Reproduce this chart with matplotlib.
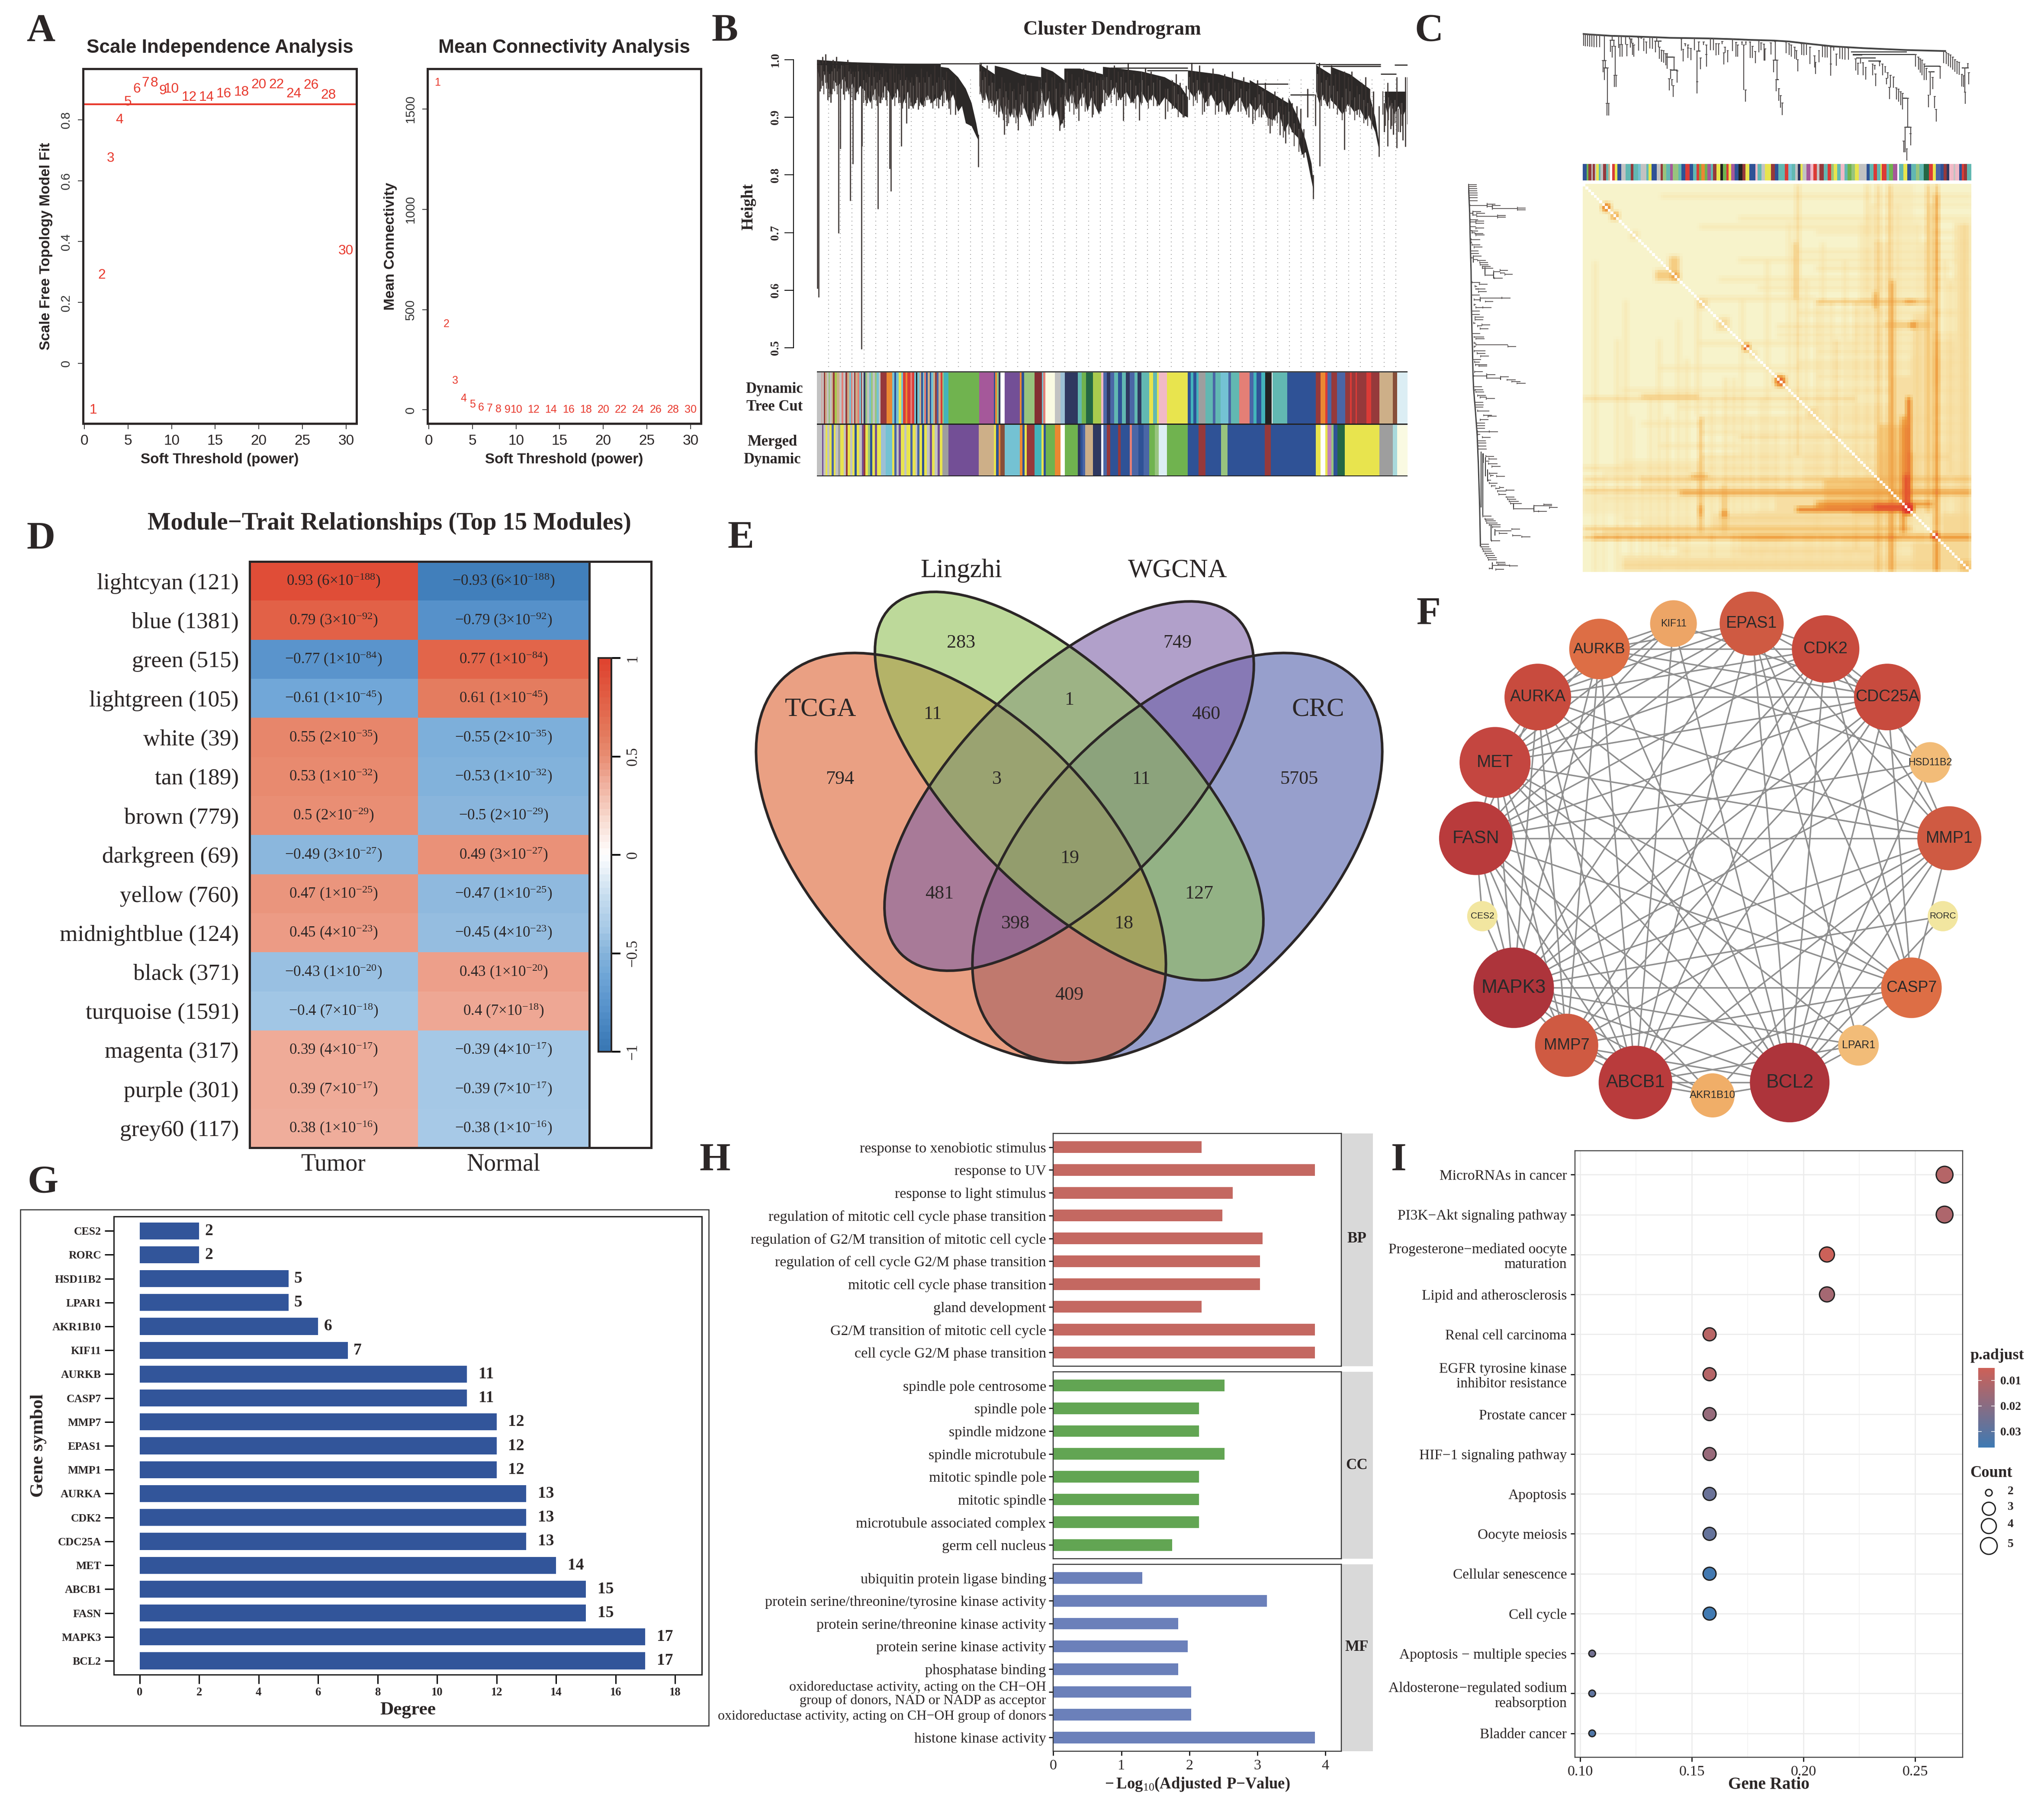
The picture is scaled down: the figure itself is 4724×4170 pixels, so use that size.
import numpy as np
import matplotlib
matplotlib.use('Agg')
import matplotlib.pyplot as plt
from matplotlib.colors import LinearSegmentedColormap
from matplotlib.patches import Ellipse, Circle, Rectangle

plt.rcParams['font.family'] = ['Liberation Serif', 'DejaVu Sans']
plt.rcParams['mathtext.fontset'] = 'custom'
plt.rcParams['mathtext.rm'] = 'Liberation Serif'
plt.rcParams['mathtext.bf'] = 'Liberation Serif:bold'
plt.rcParams['mathtext.default'] = 'rm'

W, H = 4724, 4170
DPI = 300
DARK = '#2B2626'
SANS = ['Liberation Sans', 'DejaVu Sans']

# panel A
powers = [1, 2, 3, 4, 5, 6, 7, 8, 9, 10, 12, 14, 16, 18, 20, 22, 24, 26, 28, 30]
sft_fit = [-0.153, 0.29, 0.673, 0.80, 0.858, 0.90, 0.92, 0.92, 0.894, 0.90, 0.874,
           0.873, 0.885, 0.89, 0.915, 0.915, 0.885, 0.913, 0.88, 0.37]
mean_conn = [1631, 427, 146, 57, 27, 12, 8, 4, 2, 2, 1, 1, 1, 1, 1, 1, 1, 1, 1, 1]

# panel B, dense parts of the dendrogram: top outline (x, h) and toothed bottom outline (x, h)
dense_blocks = [
    ([20, 110, 210, 340], [1.0, .996, .994, .992],
     [20, 30, 40, 50, 56, 62, 75, 90, 100, 112, 120, 132, 145, 158, 170, 185, 195, 205, 215, 228, 240, 255, 268, 280,
      292, 305, 318, 330, 340],
     [.985, .96, .975, .95, .935, .965, .955, .97, .945, .96, .94, .955, .945, .925, .95, .93, .955, .945, .93, .95,
      .92, .945, .915, .935, .92, .94, .925, .935, .93]),
    ([340, 360, 385, 405, 420, 432, 438], [.988, .986, .97, .95, .925, .89, .868],
     [340, 350, 360, 372, 385, 395, 405, 420, 432, 438], [.935, .95, .925, .94, .91, .92, .89, .885, .868, .86]),
    ([440, 480], [.993, .975], [440, 448, 456, 464, 472, 480], [.955, .93, .945, .925, .935, .92]),
    ([480, 510, 550, 600], [.99, .985, .975, .97],
     [480, 490, 500, 510, 520, 530, 540, 550, 560, 570, 580, 590, 600],
     [.92, .935, .905, .925, .90, .92, .895, .93, .91, .89, .92, .90, .93]),
    ([600, 630, 660], [.988, .98, .965], [600, 610, 620, 630, 640, 650, 660], [.95, .92, .935, .90, .915, .885, .90]),
    ([660, 700, 760], [.985, .985, .975], [660, 670, 680, 690, 700, 710, 720, 730, 740, 750, 760],
     [.94, .925, .945, .915, .93, .945, .91, .935, .92, .905, .93]),
    ([760, 800, 860], [.988, .985, .98], [760, 775, 790, 805, 820, 835, 850, 860],
     [.95, .935, .955, .93, .945, .925, .94, .92]),
    ([860, 920, 960, 980], [.98, .97, .955, .935], [860, 875, 890, 905, 920, 935, 950, 965, 980],
     [.945, .925, .94, .92, .935, .925, .915, .905, .90]),
    ([980, 1060, 1140], [.982, .975, .96], [980, 995, 1010, 1025, 1040, 1055, 1070, 1085, 1100, 1115, 1130, 1140],
     [.95, .935, .95, .925, .94, .92, .93, .905, .925, .935, .91, .925]),
    ([1140, 1190, 1240], [.965, .945, .925], [1140, 1155, 1170, 1185, 1200, 1215, 1230, 1240],
     [.925, .91, .925, .90, .895, .91, .875, .89]),
    ([1240, 1265, 1285, 1300, 1306], [.935, .90, .86, .82, .78], [1240, 1250, 1265, 1275, 1285, 1300, 1306],
     [.89, .875, .865, .835, .84, .79, .77]),
    ([1312, 1350], [.991, .975], [1312, 1320, 1330, 1340, 1350], [.945, .925, .94, .92, .935]),
    ([1350, 1400, 1450], [.988, .975, .95], [1350, 1365, 1380, 1395, 1410, 1425, 1440, 1450],
     [.93, .92, .905, .925, .91, .915, .895, .905]),
    ([1450, 1465, 1476], [.94, .90, .85], [1450, 1465, 1476], [.90, .875, .84]),
    ([1490, 1545], [.945, .945], [1490, 1497, 1505, 1515, 1525, 1535, 1545], [.925, .905, .925, .905, .92, .90, .915]),
]
dendro_tall_x = [21, 24, 76, 80, 106, 113, 135, 137, 178, 208, 212, 238, 252, 438, 1305, 1322,
                 1310, 1385, 1475, 1497, 1521, 1543, 1549, 813, 855, 922, 1138, 1148, 1193,
                 1218, 1233, 1280, 505, 541, 575, 648, 660, 698, 732, 755, 628, 970, 378, 282,
                 295, 335, 1022, 1080]
dendro_tall_top = [1.0, 1.0, .985, .985, .985, .98, .985, .98, .98, .985, .985, .985, .97, .87,
                   .80, .985, .94, .98, .92, .96, .97, .97, .97, .98, .96, .95, .95, .93, .93,
                   .92, .92, .88, .96, .96, .96, .96, .95, .97, .97, .97, .97, .93, .97, .97,
                   .97, .97, .96, .95]
dendro_tall_bot = [.603, .588, .699, .845, .755, .819, .498, .85, .741, .811, .772, .85, .89,
                   .814, .758, .815, .885, .844, .832, .85, .847, .849, .888, .894, .895, .897,
                   .90, .889, .872, .869, .855, .83, .87, .878, .885, .877, .882, .894, .90,
                   .911, .904, .90, .905, .914, .918, .916, .91, .905]
dendro_short_x = [28, 35, 42, 48, 56, 62, 70, 88, 95, 100, 120, 125, 145, 150, 158, 165, 172, 185,
                  192, 198, 218, 225, 232, 245, 258, 265, 275, 290, 305, 315, 325, 345, 355, 362,
                  445, 452, 460, 470, 478, 490, 498, 512, 520, 530, 550, 560, 585, 595, 605, 615,
                  635, 655, 668, 680, 690, 710, 720, 740, 748, 765, 775, 790, 800, 825, 840, 870,
                  885, 900, 940, 950, 960, 975, 990, 1000, 1010, 1030, 1045, 1060, 1075, 1095,
                  1110, 1125, 1160, 1170, 1180, 1205, 1225, 1250, 1262, 1272, 1290, 1320, 1332,
                  1342, 1352, 1362, 1372, 1395, 1405, 1418, 1430, 1440, 1450, 1460, 1488, 1505,
                  1512, 1530, 1537]
dendro_short_bot = [.945, .955, .96, .93, .926, .95, .955, .94, .945, .95, .93, .945, .93, .925,
                    .945, .94, .93, .925, .935, .93, .94, .935, .925, .94, .915, .92, .925, .935,
                    .93, .925, .94, .92, .93, .915, .945, .93, .94, .925, .91, .90, .92, .885,
                    .91, .90, .905, .925, .895, .915, .90, .93, .925, .89, .93, .925, .915, .935,
                    .925, .93, .915, .92, .935, .94, .93, .945, .925, .935, .93, .92, .915, .925,
                    .91, .905, .945, .93, .94, .92, .935, .91, .925, .93, .91, .92, .915, .90,
                    .91, .895, .885, .875, .87, .865, .90, .945, .93, .92, .94, .925, .93, .92,
                    .93, .905, .91, .92, .90, .895, .875, .88, .87, .875, .86]
dendro_fine_x = [31, 38, 45, 52, 59, 66, 73, 84, 92, 103, 109, 117, 128, 141, 148, 155, 162, 168, 176, 182,
                 189, 202, 222, 236, 242, 250, 262, 270, 279, 286, 300, 310, 320, 330, 349, 366, 442, 449, 456,
                 466, 474, 485, 494, 503, 509, 516, 526, 535, 546, 555, 565, 580, 590, 600, 612, 622, 640, 652,
                 664, 674, 685, 694, 705, 715, 726, 736, 744, 760, 770, 782, 795, 808, 820, 832, 845, 862, 878,
                 892, 908, 928, 945, 955, 968, 985, 995, 1005, 1018, 1035, 1052, 1068, 1088, 1102, 1118, 1132,
                 1155, 1165, 1175, 1188, 1198, 1212, 1228, 1242, 1256, 1268, 1316, 1326, 1338, 1347, 1358, 1368,
                 1380, 1390, 1400, 1412, 1425, 1436, 1446, 1456, 1485, 1492, 1500, 1509, 1516, 1526, 1534]
dendro_fine_bot = [.95, .94, .95, .935, .94, .945, .94, .95, .93, .94, .935, .93, .94, .925, .92, .93, .915, .93,
                   .92, .925, .93, .92, .92, .925, .915, .925, .92, .915, .93, .92, .92, .93, .915, .92, .925, .905,
                   .94, .925, .93, .915, .92, .905, .91, .895, .905, .89, .905, .89, .90, .915, .905, .885, .905,
                   .91, .92, .905, .91, .895, .92, .91, .905, .915, .92, .91, .92, .905, .915, .925, .93, .925, .92,
                   .93, .92, .925, .915, .925, .915, .92, .925, .91, .915, .90, .90, .93, .92, .925, .905, .92, .905,
                   .91, .905, .92, .91, .905, .895, .90, .905, .885, .885, .89, .865, .87, .85, .84, .935, .92, .925,
                   .915, .915, .905, .895, .91, .905, .895, .90, .89, .885, .88, .905, .885, .895, .885, .89, .875, .885]
# (x0, x1, height)
dendro_bars = [(20, 340, .9925), (340, 440, .993), (440, 1310, .994), (780, 980, .986), (875, 980, .981),
               (1245, 1308, .939), (1312, 1480, .992), (1330, 1480, .989), (1515, 1549, .991),
               (1480, 1520, .975), (1140, 1240, .958)]

# palette used for the module colour bars
pal = dict(g='#C2C2C2', y='#E8E44E', b='#2F5296', t='#62B8B2', lb='#74C2D3', gr='#70B34F',
           pu='#734F96', m='#A5589A', br='#96393B', dr='#842F33', r='#DB3B36', o='#EB8832',
           tan='#CDAF88', n='#2F3860', dg='#246745', lg='#98C47E', pk='#F1B9C6', sal='#E47F76',
           cy='#43B3BB', lc='#DCEEF4', ly='#FAFAE2', w='#FFFFFF', k='#222222', dk='#9E9E9E',
           yg='#A9CA4E', sb='#4A66A6', si='#874F3A', vi='#C381B8', pb='#9CC0D5', aq='#A9D9DB')

# (end of stripe in leaf units, colour key)
dyn_band = [(32, 'g'), (34, 'sal'), (38, 'g'), (41, 'br'), (46, 'tan'), (50, 'g'), (54, 'lg'), (58, 'g'),
            (62, 'tan'), (66, 'br'), (72, 'yg'), (78, 'tan'), (84, 'g'), (88, 'sal'), (94, 'g'), (98, 'br'),
            (104, 'tan'), (108, 'lb'), (112, 'sal'), (116, 'g'), (120, 'br'), (125, 'tan'), (130, 'sal'),
            (134, 'lb'), (137, 'br'), (141, 'g'), (145, 'n'), (150, 'lg'), (155, 'g'), (160, 'lb'),
            (165, 'lg'), (170, 'g'), (175, 'lg'), (180, 'lb'), (185, 'g'), (200, 'br'), (215, 'o'),
            (220, 'lb'), (225, 'b'), (232, 'lb'), (238, 'y'), (243, 'lb'), (250, 'r'), (254, 'o'),
            (262, 'r'), (266, 'sal'), (272, 'r'), (277, 'lb'), (280, 'k'), (286, 'lb'), (290, 'tan'),
            (294, 'b'), (298, 'lb'), (302, 'sal'), (307, 'b'), (312, 'tan'), (316, 'b'), (321, 'lb'),
            (326, 'tan'), (330, 'br'), (335, 'sb'), (340, 'tan'), (345, 'r'), (348, 'lg'), (360, 'cy'),
            (440, 'gr'), (478, 'm'), (482, 'b'), (486, 'o'), (490, 'lg'), (495, 'n'), (506, 'w'),
            (545, 'pu'), (550, 'o'), (556, 'b'), (563, 'lg'), (583, 'lg'), (602, 'dr'), (606, 'lb'),
            (611, 'sal'), (636, 'ly'), (651, 'g'), (662, 'pb'), (695, 'n'), (705, 't'), (717, 'gr'),
            (735, 'dg'), (756, 'yg'), (762, 'pk'), (770, 'sb'), (780, 'n'), (790, 'sb'), (800, 't'),
            (810, 'b'), (820, 't'), (830, 'n'), (842, 'sb'), (850, 't'), (860, 'n'), (880, 't'),
            (890, 'y'), (900, 't'), (905, 'y'), (926, 'pk'), (980, 'y'), (988, 'b'), (994, 'cy'),
            (1002, 'b'), (1008, 'cy'), (1026, 'dk'), (1045, 't'), (1052, 'sb'), (1065, 't'), (1085, 'lb'),
            (1092, 'sb'), (1113, 't'), (1140, 'sal'), (1150, 'sb'), (1158, 'cy'), (1170, 'b'),
            (1180, 'cy'), (1197, 'k'), (1200, 'w'), (1238, 't'), (1312, 'b'), (1324, 'br'), (1336, 'o'),
            (1342, 'r'), (1352, 'sb'), (1366, 'br'), (1388, 'sb'), (1400, 'br'), (1404, 'r'), (1415, 'br'),
            (1418, 'r'), (1430, 'br'), (1443, 'br'), (1455, 'r'), (1476, 'br'), (1511, 'tan'),
            (1522, 'si'), (1549, 'lc')]
merged_band = [(33, 'g'), (37, 'pu'), (42, 'g'), (47, 'y'), (52, 'g'), (58, 'y'), (64, 'sb'), (68, 'y'),
               (75, 'g'), (80, 'dk'), (90, 'y'), (95, 'g'), (100, 'br'), (106, 'y'), (112, 'g'), (118, 'y'),
               (123, 'b'), (130, 'y'), (136, 'g'), (141, 'pu'), (146, 'br'), (152, 'y'), (158, 'lg'),
               (163, 'b'), (170, 'y'), (176, 'pu'), (186, 'y'), (198, 'pb'), (215, 'lb'), (220, 'y'),
               (226, 'sb'), (232, 'g'), (237, 'pu'), (246, 'y'), (252, 'g'), (262, 'y'), (268, 'sb'),
               (275, 'y'), (280, 'g'), (286, 'sb'), (292, 'y'), (298, 'b'), (304, 'y'), (312, 'g'),
               (318, 'pu'), (325, 'y'), (332, 'g'), (338, 'pu'), (345, 'y'), (360, 'dk'), (439, 'pu'),
               (478, 'tan'), (484, 'y'), (490, 'b'), (495, 'o'), (506, 'si'), (545, 'lb'), (552, 'o'),
               (558, 'b'), (563, 'y'), (583, 'br'), (601, 'cy'), (607, 'y'), (613, 'b'), (636, 'gr'),
               (651, 'o'), (662, 'w'), (696, 'gr'), (702, 'n'), (708, 'b'), (715, 'sb'), (735, 'tan'),
               (756, 'n'), (762, 'w'), (770, 'sb'), (780, 'br'), (800, 'b'), (806, 'br'), (830, 'b'),
               (836, 'sal'), (852, 'sb'), (866, 'b'), (880, 'sb'), (895, 'gr'), (905, 'lg'), (926, 'lc'),
               (980, 'gr'), (1008, 'b'), (1026, 'br'), (1066, 'b'), (1083, 'lg'), (1179, 'b'), (1195, 'br'),
               (1311, 'b'), (1324, 'y'), (1336, 'w'), (1342, 'y'), (1352, 'vi'), (1358, 'lg'), (1367, 'b'),
               (1387, 'dg'), (1476, 'y'), (1511, 'dk'), (1522, 'aq'), (1549, 'ly')]

# panel C, tree read as (position, top depth, bottom depth)
tree_backbone_x = [410, 430, 490, 560, 620, 660, 770, 840, 890, 960, 1000, 1070, 1130, 1215, 1340, 1450]
tree_backbone_y = [174, 178, 187, 192, 197, 201, 205, 210, 215, 220, 226, 245, 260, 272, 285, 292]
tree_links = [(1180, 1340, 298), (1185, 1365, 315), (1185, 1212, 320), (1195, 1250, 340), (1230, 1265, 360),
              (652, 672, 335), (662, 682, 422), (1327, 1343, 615), (1335, 1351, 815), (738, 748, 292),
              (958, 968, 355), (965, 973, 488), (468, 476, 358), (472, 481, 408), (490, 499, 218),
              (1402, 1420, 435), (1498, 1518, 408), (618, 636, 222), (1390, 1435, 395)]
tree_drops = [(413, 175, 257), (418, 176, 258), (424, 177, 260), (430, 178, 262), (436, 180, 263), (442, 182, 264),
              (450, 183, 265), (458, 184, 266), (472, 187, 358), (468, 358, 437), (475, 358, 408), (472, 408, 490),
              (481, 408, 652), (479, 652, 735), (484, 652, 735), (495, 190, 218), (490, 218, 298), (499, 218, 258),
              (495, 258, 338), (503, 258, 460), (501, 460, 540), (506, 460, 540), (513, 192, 270), (520, 192, 248),
              (517, 248, 330), (523, 248, 330), (533, 195, 248), (537, 248, 328), (544, 195, 208), (550, 208, 238),
              (546, 208, 268), (553, 238, 318), (557, 250, 332), (570, 200, 290), (578, 200, 210), (585, 210, 292),
              (592, 230, 310), (603, 197, 275), (610, 197, 277), (622, 200, 222), (618, 222, 302), (627, 222, 265),
              (630, 265, 345), (636, 285, 365), (642, 290, 372), (648, 310, 390), (652, 310, 335), (652, 335, 415),
              (672, 335, 420), (662, 420, 482), (658, 482, 562), (666, 487, 530), (670, 530, 608), (681, 430, 510),
              (693, 210, 290), (698, 280, 362), (704, 240, 260), (712, 250, 270), (712, 270, 340), (720, 275, 355),
              (730, 205, 285), (743, 230, 292), (738, 292, 502), (738, 502, 585), (748, 340, 418), (757, 230, 250),
              (765, 250, 315), (765, 315, 398), (776, 205, 285), (785, 205, 285), (793, 240, 322), (800, 240, 320),
              (810, 225, 245), (818, 265, 305), (815, 305, 385), (826, 290, 370), (840, 210, 292), (850, 232, 330),
              (855, 250, 332), (867, 230, 250), (872, 250, 560), (878, 230, 250), (877, 560, 640), (890, 230, 340),
              (897, 260, 340), (905, 295, 375), (915, 220, 300), (922, 235, 285), (930, 245, 358), (933, 278, 358),
              (950, 235, 315), (962, 225, 355), (958, 355, 437), (968, 355, 488), (965, 488, 568), (973, 552, 635),
              (978, 600, 682), (983, 650, 733), (993, 228, 308), (1002, 240, 320), (1008, 250, 330), (1018, 265, 345),
              (1027, 350, 432), (1023, 290, 352), (1038, 240, 320), (1045, 240, 322), (1052, 240, 320), (1062, 265, 380),
              (1075, 325, 405), (1078, 368, 450), (1088, 290, 370), (1098, 255, 335), (1105, 258, 338), (1112, 258, 338),
              (1122, 380, 462), (1122, 265, 380), (1130, 265, 290), (1138, 312, 392), (1148, 265, 345), (1155, 265, 348),
              (1163, 268, 350), (1172, 270, 352), (1193, 345, 425), (1200, 375, 455), (1207, 340, 378), (1214, 372, 460),
              (1222, 405, 488), (1242, 380, 460), (1250, 450, 532), (1248, 390, 420), (1262, 365, 395), (1270, 380, 460),
              (1278, 398, 440), (1285, 440, 480), (1282, 480, 520), (1290, 542, 622), (1293, 460, 542), (1302, 470, 545),
              (1310, 545, 625), (1316, 555, 640), (1322, 572, 665), (1328, 585, 695), (1343, 615, 815), (1335, 815, 990),
              (1331, 910, 990), (1351, 815, 860), (1351, 860, 940), (1340, 965, 1045), (1365, 315, 400), (1373, 335, 420),
              (1378, 345, 440), (1384, 355, 460), (1390, 380, 490), (1396, 410, 490), (1407, 435, 595), (1402, 597, 680),
              (1414, 475, 555), (1420, 605, 685), (1424, 695, 778), (1435, 400, 482), (1446, 292, 375), (1453, 300, 380),
              (1459, 310, 395), (1465, 320, 405), (1472, 335, 420), (1478, 350, 435), (1484, 362, 450), (1490, 370, 455),
              (1498, 452, 535), (1503, 462, 540), (1506, 408, 575), (1507, 575, 655), (1518, 440, 522), (1515, 378, 410)]
top_band = [(136, 'b'), (143, 'gr'), (153, 'br'), (158, 'g'), (166, 'br'), (171, 'g'), (180, 'y'), (186, 't'), (196, 'g'),
            (206, 'br'), (214, 't'), (220, 'tan'), (228, 'w'), (238, 'r'), (248, 'y'), (262, 'b'), (278, 'g'), (296, 't'),
            (306, 'br'), (322, 't'), (332, 'lb'), (352, 'g'), (360, 't'), (372, 'y'), (390, 'b'), (404, 'g'), (412, 'br'),
            (424, 'lg'), (438, 't'), (448, 'm'), (468, 'lg'), (480, 't'), (494, 'b'), (510, 'r'), (522, 'b'), (534, 't'),
            (544, 'r'), (552, 'gr'), (564, 'o'), (574, 'gr'), (586, 'm'), (594, 't'), (606, 'br'), (620, 'y'), (630, 'k'),
            (642, 'gr'), (650, 'r'), (660, 'y'), (672, 'm'), (686, 'b'), (700, 'k'), (712, 'br'), (726, 'y'), (748, 'b'),
            (756, 'pk'), (770, 't'), (782, 'g'), (804, 'y'), (818, 'br'), (830, 'b'), (854, 't'), (866, 'r'), (880, 'lb'),
            (892, 't'), (902, 'g'), (910, 'n'), (918, 'y'), (932, 'g'), (946, 'm'), (958, 'pk'), (970, 'r'), (980, 'g'),
            (996, 'br'), (1010, 't'), (1022, 'r'), (1032, 'lg'), (1044, 'y'), (1056, 't'), (1070, 'pk'), (1082, 't'),
            (1096, 'gr'), (1108, 'lg'), (1122, 'y'), (1150, 'g'), (1162, 'b'), (1176, 't'), (1188, 'r'), (1200, 't'),
            (1206, 'y'), (1222, 'r'), (1232, 't'), (1246, 'gr'), (1262, 'm'), (1268, 'w'), (1284, 't'), (1298, 'y'),
            (1312, 'b'), (1330, 't'), (1342, 'lg'), (1358, 't'), (1376, 'dg'), (1390, 'r'), (1402, 'y'), (1418, 'sb'),
            (1430, 'b'), (1440, 'br'), (1450, 'n'), (1465, 'pk'), (1472, 'g'), (1486, 'pk'), (1496, 'b'), (1504, 'r'),
            (1515, 'br'), (1530, 't')]
left_band = [(105, 'b'), (113, 'gr'), (121, 'g'), (135, 'br'), (142, 'g'), (150, 'y'), (157, 'n'), (165, 'g'), (178, 'br'),
             (193, 'yg'), (202, 'w'), (210, 'r'), (222, 'y'), (238, 'n'), (252, 'g'), (260, 'gr'), (274, 'pk'), (282, 'dr'),
             (290, 't'), (304, 't'), (312, 'r'), (332, 'pk'), (342, 'g'), (354, 'y'), (372, 'b'), (384, 'lg'), (400, 'br'),
             (415, 'lg'), (430, 't'), (444, 'm'), (458, 't'), (472, 't'), (494, 'r'), (505, 'b'), (516, 'gr'), (528, 'r'),
             (540, 'o'), (556, 'gr'), (568, 'm'), (582, 'w'), (590, 'br'), (600, 'y'), (610, 'gr'), (620, 'k'), (630, 'y'),
             (640, 'r'), (656, 'm'), (676, 'b'), (694, 'k'), (708, 'br'), (720, 'y'), (738, 'b'), (750, 'n'), (760, 'pk'),
             (772, 't'), (784, 'b'), (800, 'g'), (816, 'br'), (830, 'br'), (845, 't'), (860, 'r'), (880, 't'), (895, 'br'),
             (905, 'n'), (920, 'y'), (935, 't'), (945, 'm'), (960, 't'), (975, 'r'), (985, 'w'), (995, 'gr'), (1005, 'dr'),
             (1020, 'r'), (1032, 'tan'), (1045, 't'), (1058, 'y'), (1072, 't'), (1082, 'pk'), (1095, 'g'), (1105, 'g'),
             (1116, 'gr'), (1125, 'y'), (1136, 't'), (1160, 'g'), (1172, 'b'), (1182, 'r'), (1197, 'r'), (1212, 'y'),
             (1235, 'r'), (1245, 'b'), (1258, 'gr'), (1266, 'g'), (1276, 'r'), (1284, 'w'), (1298, 't'), (1312, 'y'),
             (1332, 'b'), (1342, 'm'), (1355, 't'), (1368, 'sb'), (1382, 'dg'), (1396, 't'), (1408, 'br'), (1422, 'y'),
             (1440, 'm'), (1452, 'br'), (1468, 'n'), (1486, 'pk'), (1498, 'b'), (1510, 'pk'), (1522, 'br'), (1538, 'r'),
             (1555, 't')]
# TOM heatmap read as boxes (x0, x1, y0, y1, level) and stripes (pos, width, from, to, level), percent of side
tom_boxes = [(5, 7, 5, 7, .55), (7.5, 9, 8, 9, .4), (12, 14, 12.5, 14, .14), (18.7, 25, 22, 25, .22), (22, 25, 18.5, 25, .2),
             (22.5, 24.8, 22.5, 25, .4), (29, 32.4, 29, 32.4, .18), (34.5, 38, 35, 38, .15), (41.5, 42.5, 41.5, 42.5, .85),
             (43, 45, 43, 45, .14), (49, 52, 49, 52, .5), (50.5, 51.8, 50.5, 51.8, .7), (58, 61, 57, 61, .14),
             (63, 66, 63, 66, .14), (69, 84, 76, 85, .26), (76, 84, 62, 85, .24), (80, 85, 50, 85, .14),
             (82.5, 85, 82.5, 85, 1.0), (83, 84.5, 75, 85, .6), (79.3, 84, 83.5, 84.3, .75), (90.3, 91.5, 90.3, 91.5, .95),
             (97, 100, 97, 100, .3), (85, 100, 92, 100, .17), (10, 85, 96, 100, .12), (33, 85, 85, 90, .13),
             (0, 85, 79, 85, .06), (84, 100, 40, 85, .09), (84.5, 92, 44, 52, .14)]
tom_stripes = [(90.4, 1.0, 0, 100, .24), (79.2, .7, 25, 100, .26), (75.6, .4, 15, 100, .2), (82, .4, 60, 90, .35),
               (83.8, .5, 55, 85, .45), (55, .5, 0, 70, .14), (54.5, 1.2, 15, 30, .14), (29.7, .4, 60, 90, .22),
               (21.7, .3, 60, 95, .1), (36, 1.2, 78, 90, .15), (30, .6, 83, 86, .38), (36, 1, 84, 86, .3),
               (75, .5, 28, 32, .2), (78.5, .6, 0, 100, .18), (75.8, .5, 0, 100, .15), (88.7, .5, 0, 85, .2),
               (90.8, .6, 3, 100, .36), (73, .3, 0, 80, .12), (65, .3, 40, 80, .13), (70, .4, 30, 95, .12),
               (60, .3, 30, 90, .1), (43, .4, 60, 100, .08), (15, .3, 75, 100, .08), (5, .3, 75, 100, .06),
               (12, .4, 60, 100, .07), (98, .4, 10, 90, .12), (94, .4, 25, 75, .12), (86, .5, 35, 85, .12),
               (29.5, .5, 30, 60, .09), (36.5, .4, 50, 85, .1)]
# fine pale streaks
tom_texture = [(3, .4, 20, 100), (8.5, .4, 40, 100), (10.5, .4, 30, 90), (17, .4, 55, 100), (19.5, .4, 40, 100),
               (24, .4, 35, 100), (26.5, .5, 45, 100), (33, .4, 55, 100), (38.5, .5, 50, 100), (41, .4, 30, 95),
               (45.5, .4, 55, 100), (47.5, .5, 20, 95), (49.5, .4, 60, 100), (52.5, .4, 10, 100), (57, .4, 25, 100),
               (58.5, .3, 60, 100), (61.5, .4, 15, 100), (63.5, .5, 30, 100), (67, .4, 20, 100), (68.5, .5, 40, 100),
               (71.5, .4, 10, 100), (72.5, .5, 30, 100), (74, .3, 5, 100), (77, .5, 15, 100), (80.5, .4, 5, 100),
               (85.5, .4, 10, 100), (87.5, .5, 15, 100), (89, .3, 5, 100), (92.5, .5, 20, 100), (95.5, .4, 10, 100),
               (97, .4, 20, 100), (99, .4, 30, 100)]

# panel D
module_names = ['lightcyan (121)', 'blue (1381)', 'green (515)', 'lightgreen (105)', 'white (39)', 'tan (189)',
                'brown (779)', 'darkgreen (69)', 'yellow (760)', 'midnightblue (124)', 'black (371)',
                'turquoise (1591)', 'magenta (317)', 'purple (301)', 'grey60 (117)']
tumor_r = [0.93, 0.79, -0.77, -0.61, 0.55, 0.53, 0.5, -0.49, 0.47, 0.45, -0.43, -0.4, 0.39, 0.39, 0.38]
normal_r = [-0.93, -0.79, 0.77, 0.61, -0.55, -0.53, -0.5, 0.49, -0.47, -0.45, 0.43, 0.4, -0.39, -0.39, -0.38]
p_mant = [6, 3, 1, 1, 2, 1, 2, 3, 1, 4, 1, 7, 4, 7, 1]
p_exp = [188, 92, 84, 45, 35, 32, 29, 27, 25, 23, 20, 18, 17, 17, 16]
trait_names = ['Tumor', 'Normal']

# panel E, the fill layers go bottom to top: CRC, TCGA, WGCNA, Lingzhi
venn_counts = ['283', '749', '11', '1', '460', '794', '3', '11', '5705', '19', '481', '127', '398', '18', '409']
venn_count_x = [560, 1050, 495, 805, 1115, 285, 641, 968, 1325, 806, 511, 1099, 683, 928, 805]
venn_count_y = [320, 320, 505, 468, 505, 673, 673, 673, 673, 878, 970, 970, 1047, 1047, 1232]
venn_sets = ['TCGA', 'Lingzhi', 'WGCNA', 'CRC']
venn_set_x = [242, 560, 1050, 1368]
venn_set_y = [492, 133, 133, 492]
venn_colors = ['#525FAA', '#DC6130', '#7D61A7', '#91C057']

# panels F and G
genes = ['CES2', 'RORC', 'HSD11B2', 'LPAR1', 'AKR1B10', 'KIF11', 'AURKB', 'CASP7', 'MMP7', 'EPAS1', 'MMP1',
         'AURKA', 'CDK2', 'CDC25A', 'MET', 'ABCB1', 'FASN', 'MAPK3', 'BCL2']
degree = [2, 2, 5, 5, 6, 7, 11, 11, 12, 12, 12, 13, 13, 13, 14, 15, 15, 17, 17]
ring_order = ['AKR1B10', 'ABCB1', 'MMP7', 'MAPK3', 'CES2', 'FASN', 'MET', 'AURKA', 'AURKB', 'KIF11', 'EPAS1',
              'CDK2', 'CDC25A', 'HSD11B2', 'MMP1', 'RORC', 'CASP7', 'LPAR1', 'BCL2']
node_radius = [51, 85, 73, 93, 35, 85, 82, 77, 70, 54, 74, 78, 77, 47, 74, 35, 70, 47, 92]
node_color = ['#F0AE68', '#B93B3C', '#CF5A42', '#AD343B', '#F2E6A0', '#B93B3C', '#C44640', '#C84B3E', '#DD6E45',
              '#EDA566', '#CF5A42', '#C84B3E', '#C84B3E', '#F2BC78', '#CF5A42', '#F2E6A0', '#DD6E45', '#F2BC78', '#AD343B']
node_font = [5.8, 10, 8.8, 10.6, 5.0, 10, 9.6, 9.0, 8.4, 5.6, 9.0, 9.2, 9.0, 5.6, 9.0, 5.0, 8.6, 6.0, 10.6]
edges = {
    'BCL2': ['RORC', 'HSD11B2', 'LPAR1', 'AKR1B10', 'KIF11', 'AURKB', 'CASP7', 'MMP7', 'EPAS1', 'MMP1', 'AURKA',
             'CDK2', 'CDC25A', 'MET', 'ABCB1', 'FASN', 'MAPK3'],
    'MAPK3': ['CES2', 'RORC', 'HSD11B2', 'LPAR1', 'AKR1B10', 'AURKB', 'CASP7', 'MMP7', 'EPAS1', 'MMP1', 'AURKA',
              'CDK2', 'CDC25A', 'MET', 'ABCB1', 'FASN'],
    'ABCB1': ['FASN', 'MET', 'AURKA', 'CDK2', 'CDC25A', 'MMP1', 'EPAS1', 'MMP7', 'CASP7', 'AURKB', 'KIF11', 'AKR1B10', 'LPAR1'],
    'FASN': ['CES2', 'MET', 'AURKA', 'CDK2', 'CDC25A', 'MMP1', 'EPAS1', 'MMP7', 'CASP7', 'KIF11', 'HSD11B2', 'AKR1B10'],
    'MET': ['AURKA', 'AURKB', 'CDK2', 'CDC25A', 'MMP1', 'EPAS1', 'MMP7', 'CASP7', 'KIF11', 'LPAR1'],
    'AURKA': ['AURKB', 'CDK2', 'CDC25A', 'EPAS1', 'MMP7', 'CASP7', 'KIF11', 'MMP1'],
    'CDK2': ['AURKB', 'CDC25A', 'EPAS1', 'MMP1', 'MMP7', 'CASP7', 'HSD11B2'],
    'CDC25A': ['EPAS1', 'AURKB', 'MMP1', 'CASP7', 'MMP7', 'KIF11'],
    'MMP1': ['EPAS1', 'MMP7', 'CASP7', 'AKR1B10'],
    'AURKB': ['EPAS1', 'MMP7', 'KIF11', 'HSD11B2'],
    'EPAS1': ['CASP7', 'LPAR1'],
    'MMP7': ['CASP7', 'AKR1B10'],
}

# panel H
bp_terms = ['response to xenobiotic stimulus', 'response to UV', 'response to light stimulus',
            'regulation of mitotic cell cycle phase transition', 'regulation of G2/M transition of mitotic cell cycle',
            'regulation of cell cycle G2/M phase transition', 'mitotic cell cycle phase transition', 'gland development',
            'G2/M transition of mitotic cell cycle', 'cell cycle G2/M phase transition']
bp_vals = [2.18, 3.85, 2.64, 2.49, 3.08, 3.04, 3.04, 2.18, 3.85, 3.85]
cc_terms = ['spindle pole centrosome', 'spindle pole', 'spindle midzone', 'spindle microtubule', 'mitotic spindle pole',
            'mitotic spindle', 'microtubule associated complex', 'germ cell nucleus']
cc_vals = [2.52, 2.14, 2.14, 2.52, 2.14, 2.14, 2.14, 1.75]
mf_terms = ['ubiquitin protein ligase binding', 'protein serine/threonine/tyrosine kinase activity',
            'protein serine/threonine kinase activity', 'protein serine kinase activity', 'phosphatase binding',
            'oxidoreductase activity, acting on the CH\u2212OH\ngroup of donors, NAD or NADP as acceptor',
            'oxidoreductase activity, acting on CH\u2212OH group of donors', 'histone kinase activity']
mf_vals = [1.31, 3.14, 1.84, 1.98, 1.84, 2.03, 2.03, 3.85]

# panel I
kegg_terms = ['MicroRNAs in cancer', 'PI3K\u2212Akt signaling pathway', 'Progesterone\u2212mediated oocyte\nmaturation',
              'Lipid and atherosclerosis', 'Renal cell carcinoma', 'EGFR tyrosine kinase\ninhibitor resistance',
              'Prostate cancer', 'HIF\u22121 signaling pathway', 'Apoptosis', 'Oocyte meiosis', 'Cellular senescence',
              'Cell cycle', 'Apoptosis \u2212 multiple species', 'Aldosterone\u2212regulated sodium\nreabsorption',
              'Bladder cancer']
kegg_ratio = [.2632, .2632, .2105, .2105, .1579, .1579, .1579, .1579, .1579, .1579, .1579, .1579, .1053, .1053, .1053]
kegg_count = [5, 5, 4, 4, 3, 3, 3, 3, 3, 3, 3, 3, 2, 2, 2]
kegg_padj = [.0104, .0119, .0055, .0139, .0097, .0104, .0172, .0167, .0269, .0279, .0354, .0357, .0249, .0293, .0326]
count_diam = {2: 3.7, 3: 7.2, 4: 8.3, 5: 9.3}

fig = plt.figure(figsize=(W / DPI, H / DPI), dpi=DPI, facecolor='white')


def px_axes(x0, y0, x1, y1, **kw):
    return fig.add_axes([x0 / W, 1 - y1 / H, (x1 - x0) / W, (y1 - y0) / H], **kw)


def lw(px):
    return px * 72 / DPI


def fig_text(x, y, s, **kw):
    kw.setdefault('color', DARK)
    return fig.text(x / W, 1 - y / H, s, **kw)


def draw_band(ax, band, start, base, height, horizontal=False):
    left = start
    for end, key in band:
        if horizontal:
            ax.barh(base + height / 2, end - left, height, left=left, color=pal[key], lw=0)
        else:
            ax.bar(left + (end - left) / 2, height, end - left, bottom=base, color=pal[key], lw=0)
        left = end


# overlay in image pixels, for things that are not on a chart scale
ov = fig.add_axes([0, 0, 1, 1])
ov.set_xlim(0, W)
ov.set_ylim(H, 0)
ov.axis('off')

for letter, lx, ly in [('A', 61, 95), ('B', 1644, 95), ('C', 3269, 95), ('D', 61, 1269), ('E', 1681, 1267),
                       ('F', 3273, 1442), ('G', 63, 2757), ('H', 1616, 2705), ('I', 3215, 2705)]:
    fig_text(lx, ly, letter, fontsize=22, fontweight='bold', ha='left', va='baseline')

# A
for box, yvals, ylim, yticks, ylabel, title, tsize in [
        ((192, 159, 824, 979), sft_fit, (-0.197, 0.967), [0, .2, .4, .6, .8],
         'Scale Free Topology Model Fit', 'Scale Independence Analysis', 7.6),
        ((988, 159, 1620, 979), mean_conn, (-68, 1700), [0, 500, 1000, 1500],
         'Mean Connectivity', 'Mean Connectivity Analysis', 6.0)]:
    ax = px_axes(*box)
    ax.set_xlim(-0.15, 31.2)
    ax.set_ylim(*ylim)
    for p, v in zip(powers, yvals):
        ax.text(p, v, str(p), color='#E8392D', fontsize=tsize, family=SANS, ha='center', va='center')
    if yvals is sft_fit:
        ax.axhline(0.85, color='#E8392D', lw=lw(4))
    ax.set_xticks([0, 5, 10, 15, 20, 25, 30])
    ax.set_yticks(yticks)
    ax.set_yticklabels([str(t) for t in yticks], rotation=90, va='center', family=SANS, fontsize=7, color='#333333')
    ax.set_xticklabels([0, 5, 10, 15, 20, 25, 30], family=SANS, fontsize=8, color=DARK)
    ax.tick_params(length=3, width=lw(2), pad=3, color='#444444')
    ax.set_xlabel('Soft Threshold (power)', family=SANS, fontweight='bold', fontsize=8, labelpad=3, color=DARK)
    ax.set_ylabel(ylabel, family=SANS, fontweight='bold', fontsize=8, labelpad=4, color=DARK)
    for s in ax.spines.values():
        s.set_linewidth(lw(5))
        s.set_color(DARK)
    fig_text((box[0] + box[2]) / 2, 122, title, family=SANS, fontweight='bold', fontsize=10.6, ha='center', va='baseline')

# B
ax = px_axes(1888, 125, 3253, 850)
ax.patch.set_alpha(0)
ax.set_xlim(20, 1549)
ax.set_ylim(1 - (850 - 138) / 1332, 1 + 13 / 1332)
ax.vlines(np.arange(50, 1530, 30.6), 0.467, 0.97, color='#777777', lw=lw(1.6), linestyles=(0, (1, 5)), zorder=1)
for top_x, top_h, bot_x, bot_h in dense_blocks:
    xs = sorted(set(top_x) | set(bot_x))
    ax.fill_between(xs, np.interp(xs, bot_x, bot_h), np.interp(xs, top_x, top_h), color='#2B2827', lw=0, zorder=3)
ax.vlines(dendro_tall_x, dendro_tall_bot, dendro_tall_top, color='#3A3331', lw=lw(2.6), zorder=3)
ax.vlines(dendro_short_x, dendro_short_bot, [b + .05 for b in dendro_short_bot], color='#3A3331', lw=lw(2.8), zorder=3)
ax.vlines(dendro_fine_x, dendro_fine_bot, [b + .04 for b in dendro_fine_bot], color='#5A5350', lw=lw(2.4), zorder=3)
for x0, x1, h in dendro_bars:
    ax.hlines(h, x0, x1, color='#2B2827', lw=lw(2.6), zorder=3)
for s in ['top', 'right', 'bottom']:
    ax.spines[s].set_visible(False)
ax.spines['left'].set_position(('outward', 54 * 72 / DPI))
ax.spines['left'].set_bounds(0.5, 1.0)
ax.spines['left'].set_linewidth(lw(2))
ax.set_xticks([])
ax.set_yticks([0.5, 0.6, 0.7, 0.8, 0.9, 1.0])
ax.set_yticklabels(['0.5', '0.6', '0.7', '0.8', '0.9', '1.0'], rotation=90, va='center', fontsize=6.6, fontweight='bold', color=DARK)
ax.tick_params(length=5, width=lw(2), pad=2)
fig_text(1730, 478, 'Height', rotation=90, fontsize=9, fontweight='bold', ha='center', va='center')
fig_text(2570, 69, 'Cluster Dendrogram', fontsize=11.1, fontweight='bold', ha='center', va='center')

ax = px_axes(1888, 858, 3253, 1101)
ax.set_xlim(20, 1549)
ax.set_ylim(0, 2)
draw_band(ax, merged_band, 20, 0, 1)
draw_band(ax, dyn_band, 20, 1, 1)
ax.axhline(1, color='#222222', lw=lw(3))
ax.axhline(2, color='#444444', lw=lw(5))
ax.axhline(0, color='#222222', lw=lw(5))
ax.axis('off')
fig_text(1790, 920, 'Dynamic\nTree Cut', fontsize=8.3, fontweight='bold', ha='center', va='center', linespacing=1.3)
fig_text(1785, 1042, 'Merged\nDynamic', fontsize=8.3, fontweight='bold', ha='center', va='center', linespacing=1.3)

# C
ax = px_axes(3658, 72, 4556, 376)
ax.set_xlim(410, 1525)
ax.set_ylim(1060, 155)
ax.plot(tree_backbone_x, tree_backbone_y, color='#444444', lw=lw(4))
for x0, x1, y in tree_links:
    ax.hlines(y, x0, x1, color='#333333', lw=lw(2.4))
for x, t, b in tree_drops:
    ax.vlines(x, t, b, color='#555050', lw=lw(2.2))
    ax.hlines(t, x - 3, x + 3, color='#555050', lw=lw(1.8))
ax.axis('off')

ax = px_axes(3393, 425, 3600, 1322)
ax.set_ylim(1525, 410)
ax.set_xlim(172, 1045)
ax.plot(tree_backbone_y, tree_backbone_x, color='#444444', lw=lw(3))
for x0, x1, y in tree_links:
    ax.vlines(y, x0, x1, color='#333333', lw=lw(2))
for x, t, b in tree_drops:
    ax.hlines(x, t, b, color='#555050', lw=lw(1.8))
    ax.vlines(t, x - 3, x + 3, color='#555050', lw=lw(1.6))
ax.axis('off')

ax = px_axes(3658, 379, 4556, 417)
ax.set_xlim(122, 1530)
ax.set_ylim(0, 1)
draw_band(ax, top_band, 122, 0, 1)
ax.axis('off')

ax = px_axes(3612, 425, 3650, 1322)
ax.set_ylim(1555, 90)
ax.set_xlim(0, 1)
draw_band(ax, left_band, 90, 0, 1, horizontal=True)
ax.axis('off')

n_tom = 140
tom = np.zeros((n_tom, n_tom))


def cell(p):
    return int(round(p * n_tom / 100))


def stamp(pos, width, s0, s1, v):
    i0, i1 = cell(pos), max(cell(pos + width), cell(pos) + 1)
    a = tom[cell(s0):cell(s1), i0:i1]
    a[:] = np.maximum(a, v)
    a = tom[i0:i1, cell(s0):cell(s1)]
    a[:] = np.maximum(a, v)


for pos, width, s0, s1 in tom_texture:
    stamp(pos, width, s0, s1, 0.14)
for pos, width, s0, s1, v in tom_stripes:
    stamp(pos, width, s0, s1, v * 1.7)
for x0, x1, y0, y1, v in tom_boxes:
    for a0, a1, b0, b1 in [(x0, x1, y0, y1), (y0, y1, x0, x1)]:
        sub = tom[cell(b0):max(cell(b1), cell(b0) + 1), cell(a0):max(cell(a1), cell(a0) + 1)]
        sub[:] = np.maximum(sub, v)
# soften the box edges a little, as in the rendered heatmap
kernel = np.array([1, 2, 1]) / 4
tom = np.apply_along_axis(lambda r: np.convolve(r, kernel, mode='same'), 0, tom)
tom = np.apply_along_axis(lambda r: np.convolve(r, kernel, mode='same'), 1, tom)
np.fill_diagonal(tom, np.nan)
tom_cmap = LinearSegmentedColormap.from_list('tom', [(0, '#F7F3CB'), (.12, '#F8E8B4'), (.3, '#F5C97A'),
                                                     (.5, '#EE9C3E'), (.75, '#E65F30'), (1, '#E0342C')])
tom_cmap.set_bad('white')
ax = px_axes(3658, 425, 4556, 1322)
ax.imshow(tom, cmap=tom_cmap, vmin=0, vmax=.8, aspect='auto', interpolation='nearest')
ax.axis('off')

# D
corr_cmap = LinearSegmentedColormap.from_list('corr', [
    (0, '#3A78B4'), (.035, '#4280BC'), (.105, '#5792CB'), (.195, '#72A8D8'), (.25, '#88B5DC'), (.305, '#A5C8E6'),
    (.4, '#CADFF0'), (.5, '#FFFFFF'), (.6, '#F8D8CC'), (.695, '#EFAB98'), (.75, '#E98F75'), (.805, '#E47D60'),
    (.895, '#E26248'), (.965, '#E04E38'), (1, '#DF4430')])
ax = px_axes(577, 1298, 1505, 2653)
ax.set_xlim(0, 928)
ax.set_ylim(15, 0)
corr = np.array([tumor_r, normal_r]).T
ax.pcolormesh([0, 389, 785], np.arange(16), corr, cmap=corr_cmap, vmin=-1, vmax=1)
for i in range(15):
    for xc, r in zip([194, 587], corr[i]):
        rs = str(r).replace('-', '\u2212')
        ax.text(xc, i + 0.5, f'{rs} ({p_mant[i]}\u00d710$^{{-{p_exp[i]}}}$)', fontsize=8.4, ha='center', va='center', color=DARK)
ax.axvline(785, color=DARK, lw=lw(5))
ax.set_yticks(np.arange(15) + 0.5)
ax.set_yticklabels(module_names, fontsize=12.8, color=DARK)
ax.set_xticks([194, 587])
ax.set_xticklabels(trait_names, fontsize=13.4, color=DARK)
ax.tick_params(length=0, pad=6)
ax.tick_params(axis='x', pad=3)
for s in ax.spines.values():
    s.set_linewidth(lw(5))
    s.set_color(DARK)
fig_text(900, 1210, 'Module\u2212Trait Relationships (Top 15 Modules)', fontsize=13.6, fontweight='bold', ha='center', va='center')

cax = px_axes(1383, 1521, 1413, 2431)
cax.imshow(np.linspace(1, -1, 60).reshape(-1, 1), cmap=corr_cmap, vmin=-1, vmax=1, aspect='auto', extent=(0, 1, -1, 1))
cax.set_xticks([])
cax.yaxis.tick_right()
cax.set_yticks([-1, -.5, 0, .5, 1])
cax.set_yticklabels(['\u22121', '\u22120.5', '0', '0.5', '1'], rotation=90, va='center', fontsize=8.4, color=DARK)
cax.tick_params(length=5, width=lw(4), pad=3)
for s in cax.spines.values():
    s.set_linewidth(lw(4))
    s.set_color(DARK)

# E
venn_px = [(2721, 1983, 584, 328, 45), (2221, 1983, 584, 328, -45), (2471, 1817, 549, 251, 45), (2471, 1817, 584, 249, -45)]
for (cx, cy, a, b, ang), col in zip(venn_px, venn_colors):
    # y of the overlay runs downwards, so the sign of the angle flips on screen
    ov.add_patch(Ellipse((cx, cy), 2 * a, 2 * b, angle=-ang, facecolor=col, alpha=0.6, lw=0))
for cx, cy, a, b, ang in venn_px:
    ov.add_patch(Ellipse((cx, cy), 2 * a, 2 * b, angle=-ang, facecolor='none', edgecolor=DARK, lw=lw(6)))
for t, x, y in zip(venn_counts, venn_count_x, venn_count_y):
    ov.text(1650 + x * 1.0204, 1200 + y * .8929, t, fontsize=10.6, ha='center', va='center', color=DARK)
for t, x, y in zip(venn_sets, venn_set_x, venn_set_y):
    ov.text(1650 + x * 1.0204, 1200 + y * .8929, t, fontsize=14.6, ha='center', va='center', color=DARK)

# F, circular layout with the first gene at the bottom
ring_cx, ring_cy, ring_r = 3958, 1983, 549
ring_pos = {}
for i, g in enumerate(ring_order):
    a = 2 * np.pi * i / len(ring_order)
    ring_pos[g] = (ring_cx - ring_r * np.sin(a), ring_cy + ring_r * np.cos(a))
for g, others in edges.items():
    for o in others:
        ov.plot([ring_pos[g][0], ring_pos[o][0]], [ring_pos[g][1], ring_pos[o][1]], color='#8F8F8F', lw=lw(3.4), zorder=2)
for g, r, c, fs in zip(ring_order, node_radius, node_color, node_font):
    ov.add_patch(Circle(ring_pos[g], r, facecolor=c, edgecolor='none', zorder=3))
    ov.text(ring_pos[g][0], ring_pos[g][1], g, family=SANS, fontsize=fs, ha='center', va='center', color='#2A2A2A', zorder=4)

# G
ov.add_patch(Rectangle((47, 2796), 1591, 1193, facecolor='none', edgecolor='#333333', lw=lw(2.5)))
ax = px_axes(263, 2812, 1622, 3871)
ypos = np.arange(len(genes))[::-1]
ax.barh(ypos, degree, height=0.71, color='#32559A')
for y, d in zip(ypos, degree):
    ax.text(d + (0.19 if d < 10 else 0.39), y, str(d), fontsize=9, fontweight='bold', ha='left', va='center', color=DARK)
ax.set_xlim(-0.87, 18.9)
ax.set_ylim(-0.58, 18.6)
ax.set_yticks(ypos)
ax.set_yticklabels(genes, fontsize=6.2, fontweight='bold', color=DARK)
ax.set_xticks(range(0, 19, 2))
ax.set_xticklabels(range(0, 19, 2), fontsize=6.4, fontweight='bold', color=DARK)
ax.tick_params(length=5, width=lw(3), pad=2)
ax.set_xlabel('Degree', fontsize=10.4, fontweight='bold', labelpad=2, color=DARK)
ax.set_ylabel('Gene symbol', fontsize=10.4, fontweight='bold', labelpad=3, color=DARK)
for s in ax.spines.values():
    s.set_linewidth(lw(3))
    s.set_color('#222222')

# H
h_panels = [(2620, 3158, bp_terms, bp_vals, '#C46861', 'BP'), (3171, 3603, cc_terms, cc_vals, '#62A553', 'CC'),
            (3616, 4048, mf_terms, mf_vals, '#6B80BA', 'MF')]
for y0, y1, terms, vals, col, tag in h_panels:
    ax = px_axes(2434.5, y0, 3099.5, y1)
    pos = np.arange(len(terms))
    ax.barh(pos, vals, height=0.51, color=col)
    ax.set_xlim(0, 4.235)
    ax.set_ylim(len(terms) - 0.4, -0.6)
    ax.set_yticks(pos)
    ax.set_yticklabels(terms, fontsize=8.2, color=DARK, linespacing=1.1)
    for lab in ax.get_yticklabels():
        if lab.get_text().startswith('oxidoreductase'):
            lab.set_fontsize(7.7)
    ax.tick_params(axis='y', length=2.5, width=lw(2.5), pad=1.5)
    if tag == 'MF':
        ax.set_xticks([0, 1, 2, 3, 4])
        ax.set_xticklabels([0, 1, 2, 3, 4], fontsize=8.2, color=DARK)
        ax.tick_params(axis='x', length=2.5, width=lw(2.5), pad=2)
        ax.set_xlabel(r'$\mathbf{-\,Log}_{\mathrm{10}}\mathbf{(Adjusted\ P{-}Value)}$', fontsize=8.8, labelpad=2, color=DARK)
    else:
        ax.set_xticks([])
    for s in ax.spines.values():
        s.set_linewidth(lw(2.4))
        s.set_color('#333333')
    ov.add_patch(Rectangle((3099.5, y0), 73.5, y1 - y0, facecolor='#D9D9D9', lw=0))
    ov.text(3136, (y0 + y1) / 2 + (-25 if tag != 'CC' else 0), tag, fontsize=8.4, fontweight='bold', ha='center', va='center', color=DARK)

# I
padj_cmap = LinearSegmentedColormap.from_list('padj', ['#CD6158', '#3F7AB3'])
padj_lo, padj_hi = .0051, .0363
ax = px_axes(3640, 2660, 4536, 4062)
rows = np.arange(len(kegg_terms))
ax.set_xlim(.0976, .2713)
ax.set_ylim(14.6, -0.6)
ax.set_xticks([.125, .175, .225], minor=True)
ax.grid(True, which='major', color='#EBEBEB', lw=lw(2.5))
ax.grid(True, which='minor', axis='x', color='#F2F2F2', lw=lw(1.6))
ax.set_axisbelow(True)
ax.scatter(kegg_ratio, rows, s=[count_diam[c] ** 2 for c in kegg_count], c=kegg_padj, cmap=padj_cmap,
           vmin=padj_lo, vmax=padj_hi, edgecolors='#222222', linewidths=lw(3), zorder=3)
ax.set_yticks(rows)
ax.set_yticklabels(kegg_terms, fontsize=8, color=DARK, linespacing=1.15)
ax.set_xticks([.10, .15, .20, .25])
ax.set_xticklabels(['0.10', '0.15', '0.20', '0.25'], fontsize=8.2, color=DARK)
ax.tick_params(which='major', length=2.5, width=lw(2.5), pad=2)
ax.tick_params(which='minor', length=0)
ax.set_xlabel('Gene Ratio', fontsize=9.4, fontweight='bold', labelpad=-1, color=DARK)
for s in ax.spines.values():
    s.set_linewidth(lw(2.4))
    s.set_color('#444444')

cax = px_axes(4572, 3162, 4610, 3346)
cax.imshow(np.linspace(padj_lo, padj_hi, 100).reshape(-1, 1), cmap=padj_cmap, vmin=padj_lo, vmax=padj_hi,
           aspect='auto', extent=(0, 1, padj_hi, padj_lo))
cax.set_xticks([])
cax.yaxis.tick_right()
cax.set_yticks([.01, .02, .03])
cax.set_yticklabels(['0.01', '0.02', '0.03'], fontsize=6.6, fontweight='bold', color=DARK)
cax.tick_params(length=0, pad=3)
for v in [.01, .02, .03]:
    cax.hlines(v, 0, .2, color='white', lw=lw(1.5))
    cax.hlines(v, .8, 1, color='white', lw=lw(1.5))
for s in cax.spines.values():
    s.set_visible(False)
ov.text(4553, 3134, 'p.adjust', fontsize=8.6, fontweight='bold', ha='left', va='center', color=DARK)
ov.text(4553, 3405, 'Count', fontsize=8.8, fontweight='bold', ha='left', va='center', color=DARK)
legend_y = [3450, 3487, 3527, 3573]
for c, y in zip([2, 3, 4, 5], legend_y):
    ov.scatter([4596], [y], s=count_diam[c] ** 2, facecolor='white', edgecolor='#222222', linewidths=lw(3))
    ov.text(4640, y - 3, str(c), fontsize=6.6, fontweight='bold', ha='left', va='center', color=DARK)

fig.savefig('out.png', dpi=DPI)
